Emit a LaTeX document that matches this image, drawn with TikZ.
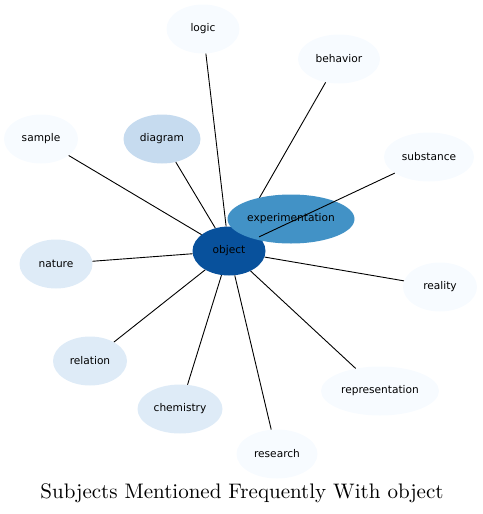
\documentclass[tikz,border=0pt]{standalone}
\usepackage{fontspec}
\newfontfamily\topicfont{DejaVu Sans}
\newfontfamily\titlefont{lmroman10-regular.otf}
\usetikzlibrary{shapes.geometric}
\definecolor{bluesA}{HTML}{F7FBFF}
\definecolor{bluesB}{HTML}{DEEBF7}
\definecolor{bluesC}{HTML}{C6DBEF}
\definecolor{bluesD}{HTML}{4292C6}
\definecolor{bluesE}{HTML}{08519C}

\begin{document}
\begin{tikzpicture}[x=1pt,y=-1pt,
	every node/.style={font=\topicfont\fontsize{10.6}{12}\selectfont},
	topic/.style={ellipse, inner sep=0pt, minimum height=49pt},
	link/.style={line width=0.9pt}]
	\useasboundingbox (0,0) rectangle (482,514);
	\node[topic, fill=bluesE, minimum width=73pt] (object) at (229,251) {object};
	\node[topic, fill=bluesA, minimum width=73pt] (logic) at (203,29) {logic};
	\node[topic, fill=bluesA, minimum width=82pt] (behavior) at (339,59) {behavior};
	\node[topic, fill=bluesA, minimum width=74pt] (sample) at (41,139) {sample};
	\node[topic, fill=bluesC, minimum width=77pt] (diagram) at (162,139) {diagram};
	\node[topic, fill=bluesA, minimum width=90pt] (substance) at (429,157) {substance};
	\node[topic, fill=bluesB, minimum width=73pt] (nature) at (56,264) {nature};
	\node[topic, fill=bluesA, minimum width=74pt] (reality) at (440,287) {reality};
	\node[topic, fill=bluesB, minimum width=74pt] (relation) at (90,361) {relation};
	\node[topic, fill=bluesB, minimum width=85pt] (chemistry) at (180,409) {chemistry};
	\node[topic, fill=bluesA, minimum width=118pt] (representation) at (380,391) {representation};
	\node[topic, fill=bluesA, minimum width=81pt] (research) at (277,454) {research};
	\draw[link] (object) -- (behavior);
	\node[topic, fill=bluesD, minimum width=127pt] (experimentation) at (291,219) {experimentation};
	\foreach \t in {logic,sample,diagram,substance,nature,reality,relation,chemistry,representation,research}
		\draw[link] (object) -- (\t);
	\node[font=\titlefont\fontsize{21}{25}\selectfont, anchor=base] (title) at (242,498) {Subjects Mentioned Frequently With object};
\end{tikzpicture}
\end{document}
